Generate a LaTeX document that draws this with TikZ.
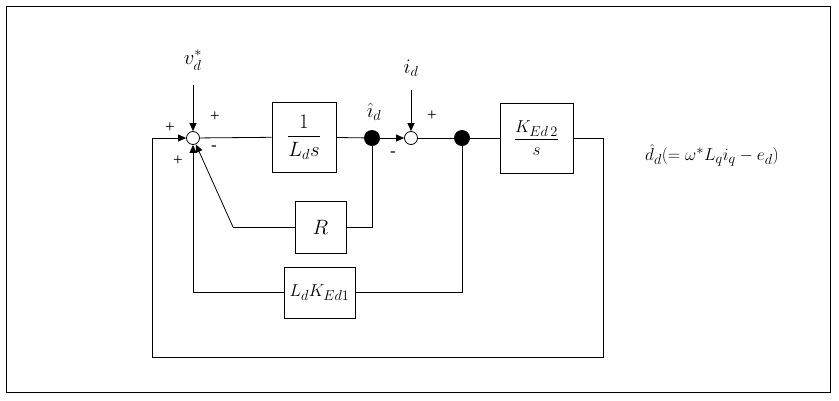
\documentclass[tikz,border=0pt]{standalone}
\usepackage{amsmath}
\usepackage{fontspec}
\setmainfont{Liberation Serif}
\usetikzlibrary{arrows.meta}
\begin{document}
\begin{tikzpicture}[x=1pt,y=-1pt,
  sum/.style={draw,thick,circle,fill=white,minimum size=13pt,inner sep=0},
  dot/.style={circle,fill=black,minimum size=16pt,inner sep=0},
  line/.style={thick},
  arr/.style={thick,-{Triangle[length=8pt,width=7pt]}},
  lbl/.style={font=\fontsize{20}{24}\selectfont},
  sg/.style={font=\fontsize{17}{20}\selectfont}]
\useasboundingbox (0,0) rectangle (839,400);
\draw[thin] (6,6) rectangle (830,392);
\node[sum] (s1) at (193,138) {};
\node[sum] (s2) at (411,138) {};
\node[dot] (d1) at (372,138) {};
\node[dot] (d2) at (462,138) {};
\node[draw,thick,minimum width=64pt,minimum height=70pt,inner sep=0,font=\fontsize{22}{26}\selectfont] (b1) at (304,137) {$\dfrac{1}{L_d s}$};
\node[draw,thick,minimum width=73pt,minimum height=70pt,inner sep=0,font=\fontsize{19}{23}\selectfont] (b2) at (536.5,138) {$\dfrac{K_{Ed\,2}}{s}$};
\node[draw,thick,minimum width=51pt,minimum height=52pt,inner sep=0,font=\fontsize{22}{26}\selectfont] (bR) at (320.5,227) {$R$};
\node[draw,thick,minimum width=71pt,minimum height=51pt,inner sep=0,font=\fontsize{19}{23}\selectfont] (bK) at (319.5,292.5) {$L_d K_{Ed1}$};
\node[lbl] (v) at (193,60) {$v_d^{*}$};
\node[lbl] (id) at (411,68) {$i_d$};
\node[lbl] (ih) at (374,112) {$\hat{\imath}_d$};
\node[font=\fontsize{19}{23}\selectfont] (out) at (712,155) {$\hat{d}_d(=\omega^{*} L_q i_q - e_d)$};
\node[sg] (p1) at (215,117) {+};
\node[sg] (p2) at (170,128) {+};
\node[sg] (p3) at (178,161) {+};
\node[sg] (m1) at (214,148) {-};
\node[sg] (p4) at (432,116) {+};
\node[sg] (m2) at (393,154) {-};
\coordinate (c1) at (603,138);
\coordinate (c2) at (603,357);
\coordinate (c3) at (152,357);
\coordinate (c4) at (152,138);
\coordinate (c5) at (233,227);
\coordinate (vt) at (193,85);
\coordinate (it) at (411,90);
\draw[arr] (vt) -- (s1);
\draw[arr] (it) -- (s2);
\draw[line] (s1) -- (b1);
\draw[line] (b1) -- (d1);
\draw[arr] (d1) -- (s2);
\draw[line] (s2) -- (d2) -- (b2);
\draw[line] (b2.east) -- (c1) -- (c2) -- (c3) -- (c4);
\draw[arr] (c4) -- (s1);
\draw[line] (d1) |- (bR.east);
\draw[line] (bR.west) -- (c5);
\draw[arr] (c5) -- (s1);
\draw[line] (d2) |- (bK.east);
\draw[arr] (bK.west) -| (s1.south);
\end{tikzpicture}
\end{document}
